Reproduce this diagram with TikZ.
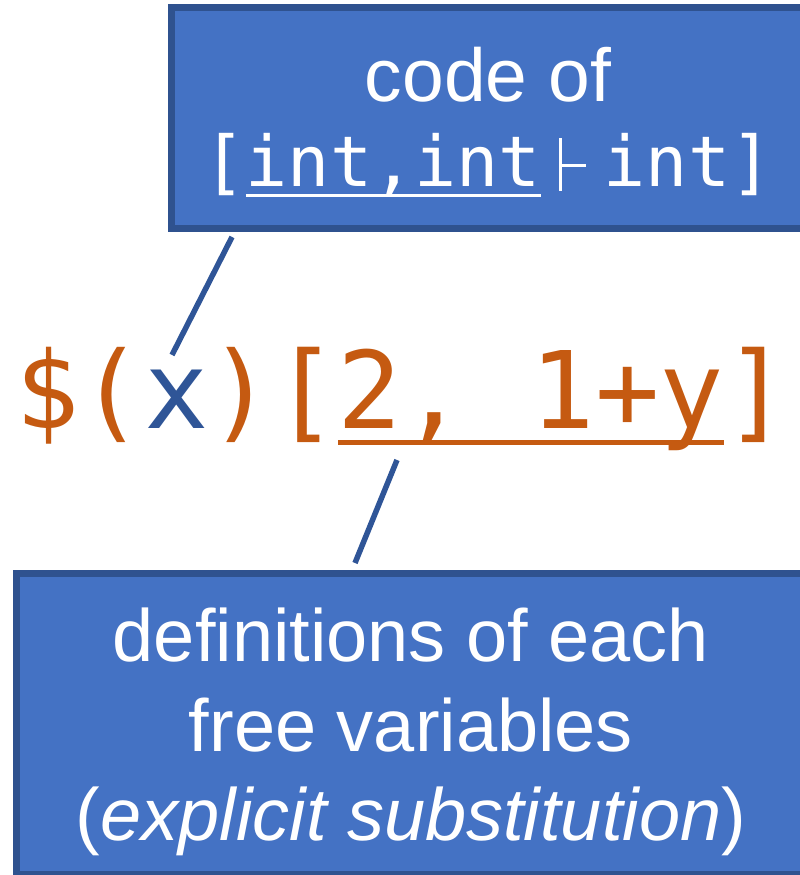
\documentclass[tikz,border=0pt]{standalone}
\usepackage{fontspec}
\setmainfont{Liberation Sans}
\newfontfamily\codefont{DejaVu Sans Mono}
\usetikzlibrary{positioning,calc}
\definecolor{boxfill}{HTML}{4472C4}
\definecolor{boxline}{HTML}{2F528F}
\definecolor{termorange}{HTML}{C55A11}
\definecolor{varblue}{HTML}{2F5597}
% underline at a fixed depth below the baseline
\newcommand{\fixul}[2][0.15em]{\setbox0\hbox{#2}\rlap{\rule[-#1]{\wd0}{0.05em}}\box0}
% small turnstile, built from two rules
\newcommand{\tstile}{\makebox[0.9em]{\rule[-0.06em]{0.045em}{0.76em}\rule[0.28em]{0.34em}{0.045em}}}
\tikzset{
  infobox/.style={draw=boxline,line width=7pt,fill=boxfill,inner sep=0pt},
  boxtext/.style={text=white,align=center,inner sep=0pt},
  conn/.style={draw=varblue,line width=5.5pt},
  term/.style={text=termorange,font=\codefont\fontsize{107}{110}\selectfont,
               inner sep=0pt,anchor=base},
}

\begin{document}
\begin{tikzpicture}[x=1pt,y=1pt]
\useasboundingbox (0,0) rectangle (800,875);

\node[infobox,minimum width=633pt,minimum height=220.5pt] (code) at (488,756.75) {};
\node[boxtext,font=\fontsize{75}{85}\selectfont] (codetext) at ([yshift=-4pt]code.center)
     {code of\\{\codefont\fontsize{70}{85}\selectfont[\fixul{int,int}\tstile int]}};

\node[term] (expr) at (402,446) {\$(\textcolor{varblue}{x})[\fixul{2, 1+y}]};

\node[infobox,minimum width=789pt,minimum height=301pt] (defs) at (411,151) {};
\node[boxtext,font=\fontsize{74}{89.5}\selectfont] (defstext) at ([yshift=-8pt]defs.center)
     {definitions of each\\free variables\\(\textit{explicit substitution})};

\coordinate (varpt) at (172,520);
\coordinate (substpt) at (397,415);
\draw[conn] ($(code.south west)+(64,-5)$) -- (varpt);
\draw[conn] (substpt) -- ($(defs.north west)+(342,7)$);

\end{tikzpicture}
\end{document}
